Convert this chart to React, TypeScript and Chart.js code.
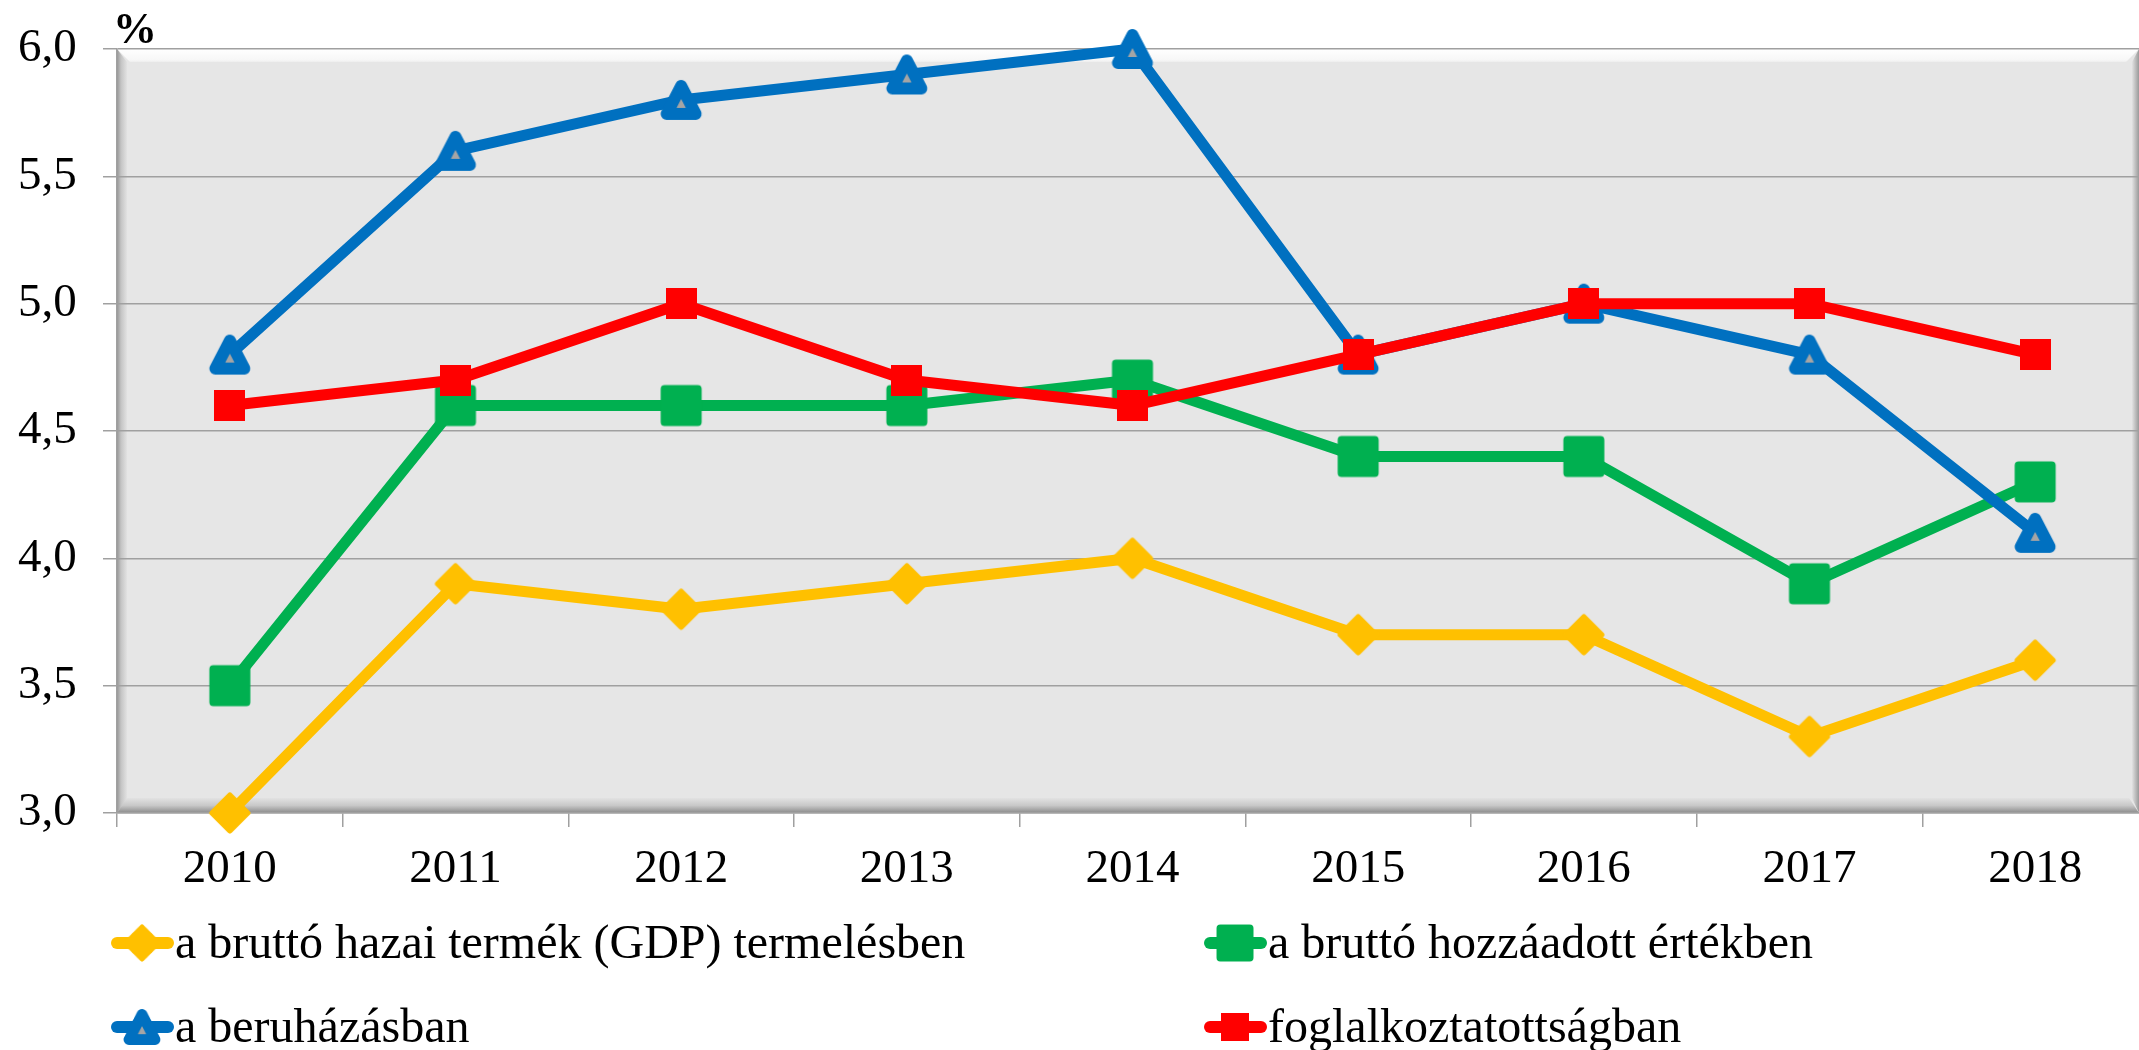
import React, { useEffect, useRef } from 'react';
import { Chart, registerables } from 'chart.js';

Chart.register(...registerables);

// ---- data ----
const years = ['2010', '2011', '2012', '2013', '2014', '2015', '2016', '2017', '2018'];
const gdpProduction = [3.0, 3.9, 3.8, 3.9, 4.0, 3.7, 3.7, 3.3, 3.6];
const grossValueAdded = [3.5, 4.6, 4.6, 4.6, 4.7, 4.4, 4.4, 3.9, 4.3];
const investment = [4.8, 5.6, 5.8, 5.9, 6.0, 4.8, 5.0, 4.8, 4.1];
const employment = [4.6, 4.7, 5.0, 4.7, 4.6, 4.8, 5.0, 5.0, 4.8];
const seriesNames = [
  'a bruttó hazai termék (GDP) termelésben',
  'a bruttó hozzáadott értékben',
  'a beruházásban',
  'foglalkoztatottságban',
];
const yTickValues = [3.0, 3.5, 4.0, 4.5, 5.0, 5.5, 6.0];
const yTickLabels = ['3,0', '3,5', '4,0', '4,5', '5,0', '5,5', '6,0'];
const unitLabel = '%';

// ---- styles ----
const YELLOW = '#FFC000';
const GREEN = '#00B050';
const BLUE = '#0070C0';
const RED = '#FF0000';
const MARKER_GRAY = '#A5A5A5';
const GRID = '#a0a0a0';
const FONT = "'Liberation Serif', 'Times New Roman', serif";

function makeCanvas(w: number, h: number, draw: (ctx: CanvasRenderingContext2D) => void) {
  const c = document.createElement('canvas');
  c.width = w;
  c.height = h;
  const ctx = c.getContext('2d') as CanvasRenderingContext2D;
  draw(ctx);
  return c;
}

function makeMarkers() {
  const diamond = makeCanvas(46, 46, (ctx) => {
    const c = 23, r = 17.5;
    ctx.beginPath();
    ctx.moveTo(c, c - r);
    ctx.lineTo(c + r, c);
    ctx.lineTo(c, c + r);
    ctx.lineTo(c - r, c);
    ctx.closePath();
    ctx.fillStyle = YELLOW;
    ctx.fill();
    ctx.lineJoin = 'round';
    ctx.lineWidth = 6;
    ctx.strokeStyle = YELLOW;
    ctx.stroke();
  });
  const greenSquare = makeCanvas(46, 46, (ctx) => {
    ctx.fillStyle = GREEN;
    ctx.fillRect(6.5, 6.5, 33, 33);
    ctx.lineJoin = 'round';
    ctx.lineWidth = 8;
    ctx.strokeStyle = GREEN;
    ctx.strokeRect(6.5, 6.5, 33, 33);
  });
  const redSquare = makeCanvas(31, 31, (ctx) => {
    ctx.fillStyle = RED;
    ctx.fillRect(0, 0, 31, 31);
  });
  const triangle = makeCanvas(46, 46, (ctx) => {
    const c = 23;
    ctx.beginPath();
    ctx.moveTo(c, c - 14);
    ctx.lineTo(c + 14.5, c + 14);
    ctx.lineTo(c - 14.5, c + 14);
    ctx.closePath();
    ctx.fillStyle = MARKER_GRAY;
    ctx.fill();
    ctx.lineJoin = 'round';
    ctx.lineWidth = 12;
    ctx.strokeStyle = BLUE;
    ctx.stroke();
  });
  return { diamond, greenSquare, redSquare, triangle };
}

export default function App() {
  const canvasRef = useRef<HTMLCanvasElement | null>(null);

  useEffect(() => {
    if (!canvasRef.current) return;
    const m = makeMarkers();
    const colors = [YELLOW, GREEN, BLUE, RED];
    const markerImgs = [m.diamond, m.greenSquare, m.triangle, m.redSquare];

    const bevelPlugin = {
      id: 'bevel',
      beforeDraw(chart: any) {
        const { ctx, chartArea: a } = chart;
        const L = a.left, T = a.top, B = a.bottom;
        const R = Math.min(a.right, window.innerWidth || a.right);
        const d = 13;
        ctx.save();
        ctx.fillStyle = '#e6e6e6';
        ctx.fillRect(L, T, a.right - L, B - T);
        // top highlight
        let g = ctx.createLinearGradient(0, T, 0, T + d);
        g.addColorStop(0, '#ffffff');
        g.addColorStop(0.85, '#f7f7f7');
        g.addColorStop(1, '#ededed');
        ctx.fillStyle = g;
        ctx.beginPath();
        ctx.moveTo(L, T); ctx.lineTo(R, T); ctx.lineTo(R - d, T + d); ctx.lineTo(L + d, T + d);
        ctx.closePath(); ctx.fill();
        // left shade
        g = ctx.createLinearGradient(L, 0, L + 10, 0);
        g.addColorStop(0, '#969696');
        g.addColorStop(0.4, '#c4c4c4');
        g.addColorStop(1, '#e2e2e2');
        ctx.fillStyle = g;
        ctx.beginPath();
        ctx.moveTo(L, T); ctx.lineTo(L + 10, T + d); ctx.lineTo(L + 10, B - d); ctx.lineTo(L, B);
        ctx.closePath(); ctx.fill();
        // bottom shade
        g = ctx.createLinearGradient(0, B - 15, 0, B);
        g.addColorStop(0, '#e2e2e2');
        g.addColorStop(0.5, '#c8c8c8');
        g.addColorStop(1, '#8a8a8a');
        ctx.fillStyle = g;
        ctx.beginPath();
        ctx.moveTo(L, B); ctx.lineTo(L + 10, B - 15); ctx.lineTo(R - 10, B - 15); ctx.lineTo(R, B);
        ctx.closePath(); ctx.fill();
        // right shade
        g = ctx.createLinearGradient(R - 7, 0, R, 0);
        g.addColorStop(0, '#e2e2e2');
        g.addColorStop(1, '#9a9a9a');
        ctx.fillStyle = g;
        ctx.beginPath();
        ctx.moveTo(R, T); ctx.lineTo(R - 7, T + d); ctx.lineTo(R - 7, B - 15); ctx.lineTo(R, B);
        ctx.closePath(); ctx.fill();
        ctx.restore();
      },
      beforeDatasetsDraw(chart: any) {
        chart.ctx.lineJoin = 'round';
      },
    };

    const annotationPlugin = {
      id: 'customLegend',
      afterDraw(chart: any) {
        const ctx = chart.ctx as CanvasRenderingContext2D;
        const a = chart.chartArea;
        ctx.save();
        // unit label
        ctx.fillStyle = '#000';
        ctx.font = `bold 44px ${FONT}`;
        ctx.textAlign = 'left';
        ctx.textBaseline = 'alphabetic';
        ctx.fillText(unitLabel, a.left - 4, a.top - 6);

        // legend: two columns, two rows
        const cols = [142, 1235];
        const rowsY = [943, 1027];
        const baseY = [958, 1042];
        const scales = [0.9, 0.9, 0.9, 0.92];
        seriesNames.forEach((name, i) => {
          const cx = cols[i % 2];
          const cy = rowsY[Math.floor(i / 2)];
          ctx.strokeStyle = colors[i];
          ctx.lineWidth = 12;
          ctx.lineCap = 'round';
          ctx.beginPath();
          ctx.moveTo(cx - 25, cy);
          ctx.lineTo(cx + 26, cy);
          ctx.stroke();
          const img = markerImgs[i];
          const w = img.width * scales[i];
          const h = img.height * scales[i];
          ctx.drawImage(img, cx - w / 2, cy - h / 2, w, h);
          ctx.fillStyle = '#000';
          ctx.font = `48px ${FONT}`;
          ctx.textAlign = 'left';
          ctx.textBaseline = 'alphabetic';
          ctx.fillText(name, cx + 33, baseY[Math.floor(i / 2)]);
        });
        ctx.restore();
      },
    };

    const series = [gdpProduction, grossValueAdded, investment, employment];
    const orders = [3, 2, 1, 0];

    const chart = new Chart(canvasRef.current, {
      type: 'line',
      data: {
        labels: years,
        datasets: series.map((data, i) => ({
          label: seriesNames[i],
          data,
          borderColor: colors[i],
          backgroundColor: colors[i],
          borderWidth: 11,
          borderJoinStyle: 'round',
          borderCapStyle: 'round',
          tension: 0,
          fill: false,
          pointStyle: markerImgs[i] as any,
          pointRadius: 20,
          pointBorderWidth: 0,
          pointHoverRadius: 20,
          clip: false as any,
          order: orders[i],
        })),
      },
      options: {
        responsive: true,
        maintainAspectRatio: false,
        animation: false,
        events: [],
        layout: { padding: { left: 18, top: 49, right: 2, bottom: 0 }, autoPadding: false },
        plugins: {
          legend: { display: false },
          tooltip: { enabled: false },
          title: { display: false },
        },
        scales: {
          x: {
            type: 'category',
            offset: true,
            grid: {
              offset: true,
              drawOnChartArea: false,
              drawTicks: true,
              tickLength: 14,
              color: GRID,
              lineWidth: 1.5,
            },
            border: { display: true, color: GRID, width: 1.5 },
            ticks: {
              color: '#000',
              font: { family: FONT, size: 47 },
              padding: 14,
              maxRotation: 0,
              autoSkip: false,
            },
            afterFit: (s: any) => {
              s.height = 237;
            },
          },
          y: {
            type: 'linear',
            min: 3,
            max: 6,
            afterBuildTicks: (s: any) => {
              s.ticks = yTickValues.map((v) => ({ value: v }));
            },
            ticks: {
              color: '#000',
              font: { family: FONT, size: 47 },
              padding: 0,
              crossAlign: 'far',
              callback: (v: any) => {
                const idx = yTickValues.findIndex((t) => Math.abs(t - Number(v)) < 1e-9);
                return idx >= 0 ? yTickLabels[idx] : '';
              },
            },
            grid: {
              color: GRID,
              lineWidth: 1.5,
              drawTicks: true,
              tickLength: 14,
            },
            border: { display: true, color: GRID, width: 1.5 },
            afterFit: (s: any) => {
              s.width = 99;
            },
          },
        },
      },
      plugins: [bevelPlugin, annotationPlugin],
    } as any);

    return () => {
      chart.destroy();
    };
  }, []);

  return (
    <div
      style={{
        position: 'fixed',
        left: 0,
        top: 0,
        width: '2139px',
        height: '1050px',
        overflow: 'hidden',
        background: '#fff',
      }}
    >
      <div style={{ position: 'relative', width: '2150px', height: '1050px' }}>
        <canvas ref={canvasRef} />
      </div>
    </div>
  );
}
